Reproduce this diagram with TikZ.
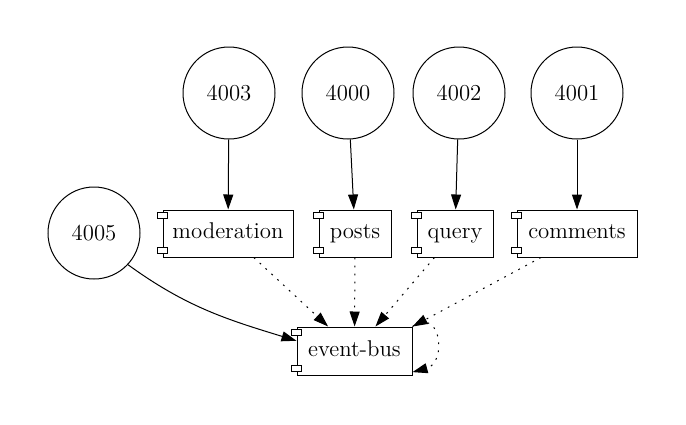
\documentclass[tikz,border=0pt]{standalone}
\usetikzlibrary{arrows.meta}

\begin{document}
\begin{tikzpicture}[x=0.5pt, y=-0.5pt, line width=0.5pt,
    port/.style={circle, draw, minimum size=46pt, inner sep=0pt, font=\fontsize{11.4}{13}\selectfont},
    service/.style={rectangle, draw, minimum height=23.5pt, inner sep=0pt, text height=7.9pt, text depth=2.5pt, font=\fontsize{11.4}{13}\selectfont},
    tab/.style={draw, fill=white},
    listen/.style={-{Triangle[length=7.5pt, width=5pt]}},
    emit/.style={-{Triangle[length=7.5pt, width=5pt]}, dash pattern=on 0.9pt off 3.1pt}]

\useasboundingbox (0,0) rectangle (686,424);

% Ports
\node[port] (p4003) at (229,93) {4003};
\node[port] (p4000) at (348,93) {4000};
\node[port] (p4002) at (459,93) {4002};
\node[port] (p4001) at (577,93) {4001};
\node[port] (p4005) at (94,233) {4005};

% Services
\node[service, minimum width=65pt] (moderation) at (228,233.5) {moderation};
\node[service, minimum width=36pt] (posts) at (355,233.5) {posts};
\node[service, minimum width=38pt] (query) at (455,233.5) {query};
\node[service, minimum width=60pt] (comments) at (577,233.5) {comments};
\node[service, minimum width=57.5pt, minimum height=24pt] (eventbus) at (354.5,351) {event-bus};

% Component tabs
\foreach \s in {moderation,posts,query,comments,eventbus} {
  \draw[tab] ([shift={(-2.5pt,-1.5pt)}]\s.north west) rectangle ([shift={(2.5pt,-4.5pt)}]\s.north west);
  \draw[tab] ([shift={(-2.5pt,2pt)}]\s.south west) rectangle ([shift={(2.5pt,5pt)}]\s.south west);
}

% Ports to services
\draw[listen] (p4003) -- (moderation);
\draw[listen] (p4000) -- (posts);
\draw[listen] (p4002) -- (query);
\draw[listen] (p4001) -- (comments);
\draw[listen] (p4005.-43) to[out=-36, in=163] (eventbus.170);

% Services to event bus
\draw[emit] (moderation) -- (eventbus);
\draw[emit] (posts) -- (eventbus);
\draw[emit] (query) -- (eventbus);
\draw[emit] ([xshift=-18pt]comments.south) -- (eventbus.north east);
\draw[emit] (eventbus.north east) to[out=35, in=15, looseness=2] (eventbus.-20);

\end{tikzpicture}
\end{document}
